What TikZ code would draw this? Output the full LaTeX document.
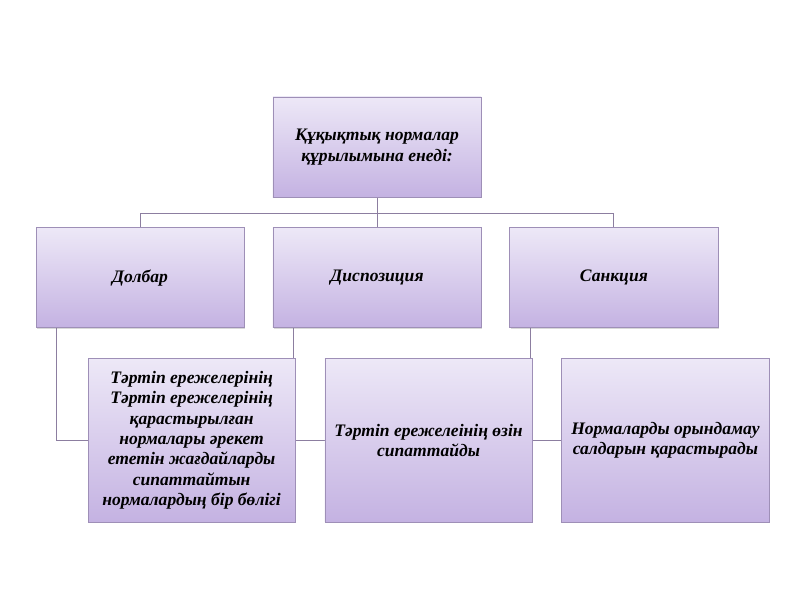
\documentclass[tikz,border=0pt]{standalone}
\usepackage{fontspec}
\setmainfont{Liberation Serif}
\usepackage{xcolor}
\definecolor{lilactop}{RGB}{237,232,247}
\definecolor{lilacbot}{RGB}{196,178,226}
\definecolor{lilacedge}{RGB}{158,143,183}
\definecolor{linkgray}{RGB}{140,126,160}
\usetikzlibrary{positioning,calc,shadows,backgrounds}

\begin{document}
\begin{tikzpicture}[
  x=0.025cm, y=0.025cm,
  font=\fontsize{12.5}{14.5}\selectfont\bfseries\itshape,
  box/.style={draw=lilacedge, line width=0.6pt, top color=lilactop, bottom color=lilacbot,
              align=center, inner sep=3pt, minimum width=5.2cm, minimum height=2.5cm,
              drop shadow={shadow xshift=0.8pt, shadow yshift=-0.8pt, opacity=0.3}},
  detail/.style={box, minimum width=5.175cm, minimum height=4.08cm},
  link/.style={draw=linkgray, line width=0.7pt}
]
\useasboundingbox (0,0) rectangle (800,600);
\node[box] (top) at (377,453) {Құқықтық нормалар\\ құрылымына енеді:};
\node[box, below=0.75cm of top]  (disp) {Диспозиция};
\node[box, left=0.7cm of disp]   (dolbar) {Долбар};
\node[box, right=0.7cm of disp]  (sank) {Санкция};
\node[detail, below=0.75cm of dolbar.south west, anchor=north west, xshift=1.3cm] (rule) {Тәртіп ережелерінің\\ Тәртіп ережелерінің\\ қарастырылған\\ нормалары әрекет\\ ететін жағдайларды\\ сипаттайтын\\ нормалардың бір бөлігі};
\node[detail, right=0.725cm of rule] (self) {Тәртіп ережелеінің өзін\\ сипаттайды};
\node[detail, right=0.725cm of self] (cons) {Нормаларды орындамау\\ салдарын қарастырады};
% connectors behind the boxes
\begin{scope}[on background layer]
\draw[link] (top.south) -- ++(0,-0.4cm) coordinate (bus);
\draw[link] (dolbar.north) |- (bus) -| (sank.north);
\draw[link] (bus) -- (disp.north);
\draw[link] ($(dolbar.south west)!0.1!(dolbar.south east)$) |- (rule.west);
\draw[link] ($(disp.south west)!0.1!(disp.south east)$) |- (self.west);
\draw[link] ($(sank.south west)!0.1!(sank.south east)$) |- (cons.west);
\end{scope}
\end{tikzpicture}
\end{document}
